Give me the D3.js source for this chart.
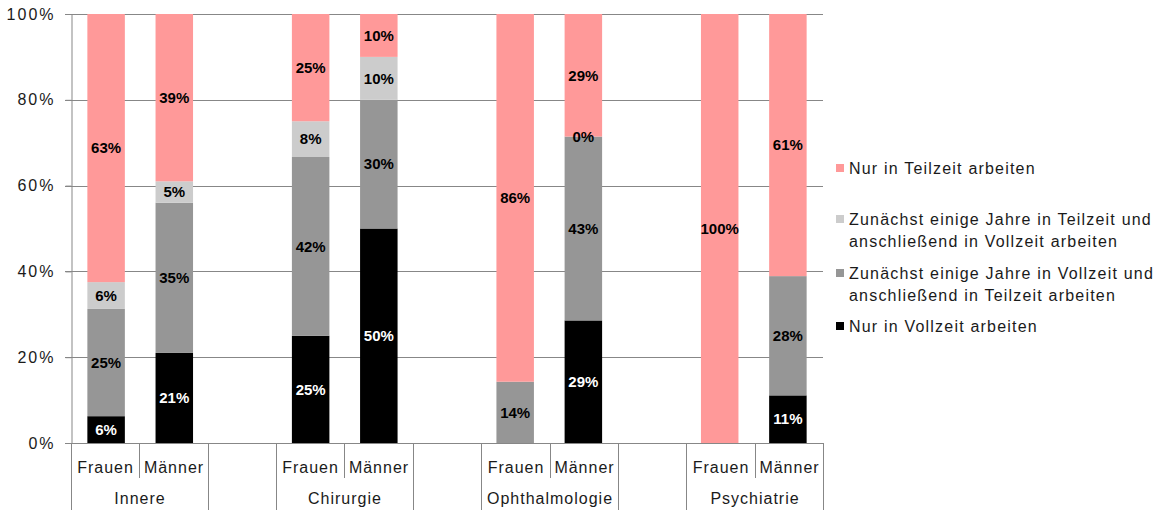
<!DOCTYPE html>
<html>
<head>
<meta charset="utf-8">
<script src="https://cdn.jsdelivr.net/npm/d3@7"></script>
<style>
  body { margin: 0; background: #fff; }
  text { font-family: "Liberation Sans", Arial, sans-serif; }
</style>
</head>
<body>
<svg id="chart"></svg>
<script>
var width = 1165, height = 510;

// data
var groups = ["Innere", "Chirurgie", "Ophthalmologie", "Psychiatrie"];
var genders = ["Frauen", "Männer"];
var yTicks = [0, 20, 40, 60, 80, 100];

// one value per bar: Innere F, Innere M, Chirurgie F, Chirurgie M, Ophth F, Ophth M, Psych F, Psych M
var nurVollzeit = [6.25, 21, 25, 50, null, 28.57, null, 11.1];
var erstVollDannTeil = [25, 35, 41.67, 30, 14.29, 42.86, null, 27.8];
var erstTeilDannVoll = [6.25, 5, 8.33, 10, null, 0, null, null];
var nurTeilzeit = [62.5, 39, 25, 10, 85.71, 28.57, 100, 61.1];

var seriesNames = [
    "Nur in Vollzeit arbeiten",
    "Zunächst einige Jahre in Vollzeit und|anschließend in Teilzeit arbeiten",
    "Zunächst einige Jahre in Teilzeit und|anschließend in Vollzeit arbeiten",
    "Nur in Teilzeit arbeiten"
];
var seriesValues = [nurVollzeit, erstVollDannTeil, erstTeilDannVoll, nurTeilzeit];
var seriesColors = ["#000000", "#969696", "#cccccc", "#ff9999"];
var labelColors = ["#ffffff", "#000000", "#000000", "#000000"];

var svg = d3.select("#chart").attr("width", width).attr("height", height);

var plotLeft = 71, plotRight = 823, plotTop = 14, plotBottom = 443;
var slotCount = groups.length * 3 - 1;

var x = d3.scaleBand()
    .domain(d3.range(slotCount))
    .range([plotLeft, plotRight])
    .paddingInner(0.45)
    .paddingOuter(0.24);

var y = d3.scaleLinear().domain([0, 100]).range([plotBottom, plotTop]);

var axisColor = "#878787";
var textColor = "#1a1a1a";

// gridlines
svg.append("g")
    .selectAll("line")
    .data(yTicks)
    .join("line")
    .attr("x1", plotLeft - 6)
    .attr("x2", plotRight)
    .attr("y1", function(d) { return Math.round(y(d)) + 0.5; })
    .attr("y2", function(d) { return Math.round(y(d)) + 0.5; })
    .style("stroke", axisColor)
    .style("stroke-width", 1);

// y axis
var yAxis = svg.append("g")
    .attr("transform", "translate(" + (plotLeft + 0.5) + ",0)")
    .call(d3.axisLeft(y).tickValues(yTicks).tickSize(6).tickPadding(10).tickFormat(function(d) { return d + "%"; }));
yAxis.select(".domain").style("stroke", axisColor);
yAxis.selectAll(".tick line").style("stroke", axisColor);
yAxis.selectAll(".tick text")
    .style("font-size", "16px")
    .style("letter-spacing", "2px")
    .style("fill", textColor)
    .style("font-family", "'Liberation Sans', Arial, sans-serif");

// bars
function slotOf(i) { return Math.floor(i / 2) * 3 + (i % 2); }

var gBars = svg.append("g");
var gLabels = svg.append("g");

for (let i = 0; i < nurTeilzeit.length; i++) {
    let base = 0;
    for (let s = 0; s < seriesValues.length; s++) {
        let v = seriesValues[s][i];
        if (v === null) continue;
        let segTop = base + v;
        gBars.append("rect")
            .attr("x", x(slotOf(i)))
            .attr("width", x.bandwidth())
            .attr("y", y(segTop))
            .attr("height", y(base) - y(segTop))
            .style("fill", seriesColors[s]);
        gLabels.append("text")
            .attr("x", x(slotOf(i)) + x.bandwidth() / 2)
            .attr("y", y(base + v / 2))
            .attr("dy", "0.35em")
            .attr("text-anchor", "middle")
            .style("font-size", "15px")
            .style("font-weight", "bold")
            .style("fill", labelColors[s])
            .text(Math.round(v) + "%");
        base = segTop;
    }
}

// category axis (two levels)
var gCat = svg.append("g");
var step = x.step();
function boundary(k) { return Math.round(plotLeft + k * (plotRight - plotLeft) / slotCount) + 0.5; }

for (let k = 0; k <= slotCount; k++) {
    // group boundaries go down to the bottom, boundaries between Frauen/Männer are short
    let inner = (k % 3 === 1) && k < slotCount;
    gCat.append("line")
        .attr("x1", boundary(k)).attr("x2", boundary(k))
        .attr("y1", plotBottom)
        .attr("y2", inner ? 478 : height)
        .style("stroke", axisColor);
}

for (let i = 0; i < nurTeilzeit.length; i++) {
    gCat.append("text")
        .attr("x", (boundary(slotOf(i)) + boundary(slotOf(i) + 1)) / 2)
        .attr("y", 473)
        .attr("text-anchor", "middle")
        .style("font-size", "16px")
        .style("letter-spacing", "1px")
        .style("fill", textColor)
        .text(genders[i % 2]);
}

groups.forEach(function(g, gi) {
    var cx = (boundary(gi * 3) + boundary(gi * 3 + 2)) / 2;
    gCat.append("text")
        .attr("x", cx)
        .attr("y", 504)
        .attr("text-anchor", "middle")
        .style("font-size", "16px")
        .style("letter-spacing", "1px")
        .style("fill", textColor)
        .text(g);
});

// legend (top series first)
var legendY = [168, 219, 273, 326];
var gLegend = svg.append("g");
for (let s = seriesNames.length - 1, row = 0; s >= 0; s--, row++) {
    gLegend.append("rect")
        .attr("x", 836)
        .attr("y", legendY[row] - 4)
        .attr("width", 8)
        .attr("height", 8)
        .style("fill", seriesColors[s]);
    seriesNames[s].split("|").forEach(function(line, li) {
        gLegend.append("text")
            .attr("x", 849)
            .attr("y", legendY[row] + li * 22)
            .attr("dy", "0.35em")
            .style("font-size", "16px")
            .style("letter-spacing", "1.2px")
            .style("fill", textColor)
            .text(line);
    });
}
</script>
</body>
</html>
